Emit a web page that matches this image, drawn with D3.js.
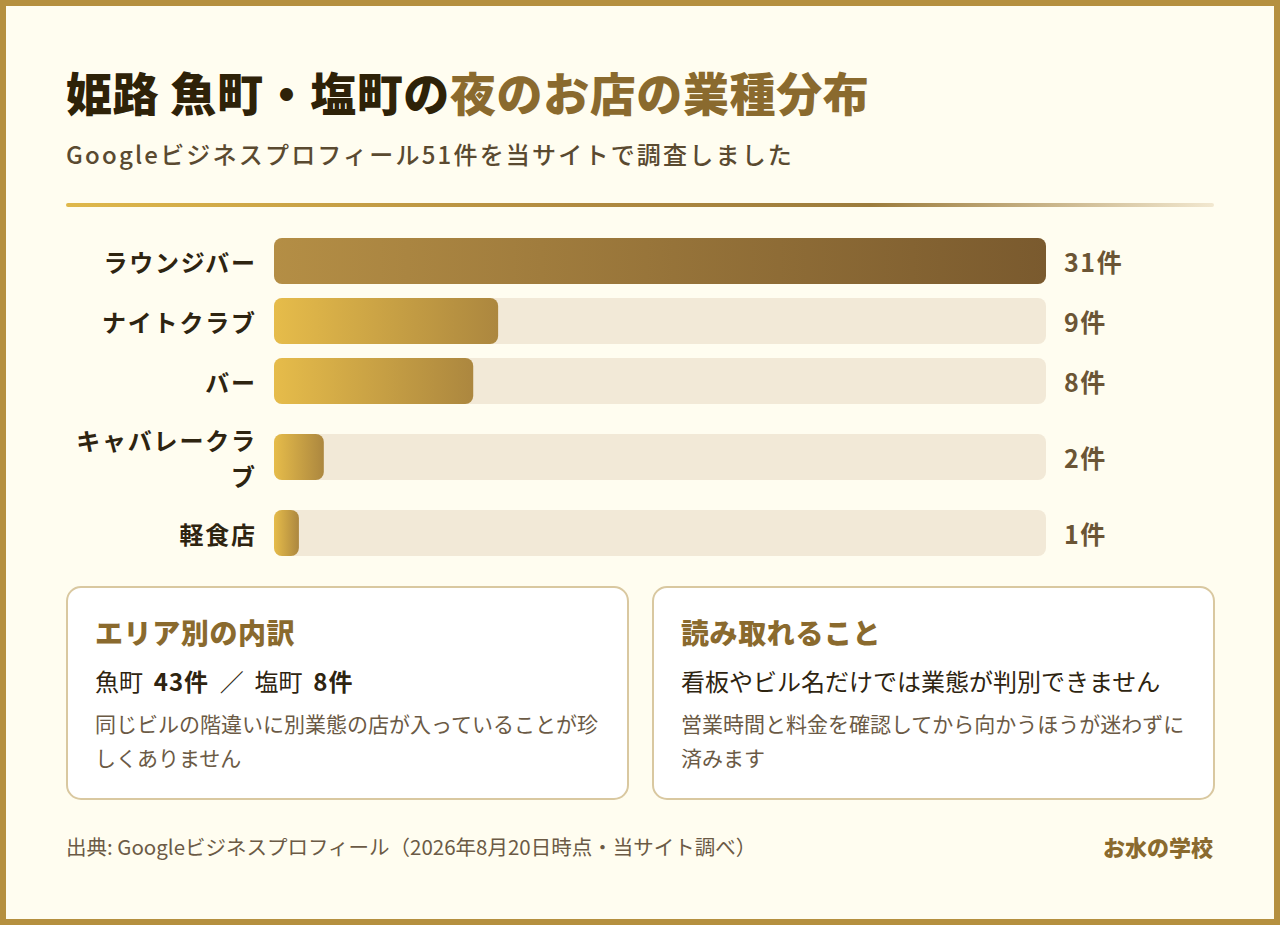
<!DOCTYPE html>
<html lang="ja">
<head>
<meta charset="utf-8">
<script src="https://cdn.jsdelivr.net/npm/d3@7"></script>
<style>
  html, body { margin: 0; padding: 0; background: #fffdf0; }
  svg { display: block; }
  text { font-family: "Noto Sans CJK JP", "Noto Sans", sans-serif; }
</style>
</head>
<body>
<svg id="chart" width="1280" height="925"></svg>
<script>
// ---- data ----
const categories = ["ラウンジバー", "ナイトクラブ", "バー", "キャバレークラブ", "軽食店"];
const counts = [31, 9, 8, 2, 1];
const unit = "件";
const titleDark = "姫路 魚町・塩町の";
const titleAccent = "夜のお店の業種分布";
const subtitle = "Googleビジネスプロフィール51件を当サイトで調査しました";
const cardTitles = ["エリア別の内訳", "読み取れること"];
const areaNames = ["魚町", "塩町"];
const areaCounts = [43, 8];
const cardLead2 = "看板やビル名だけでは業態が判別できません";
const cardNotes = [
  ["同じビルの階違いに別業態の店が入っていることが珍", "しくありません"],
  ["営業時間と料金を確認してから向かうほうが迷わずに", "済みます"]
];
const sourceText = "出典: Googleビジネスプロフィール（2026年8月20日時点・当サイト調べ）";
const brand = "お水の学校";

// ---- drawing ----
const W = 1280, H = 925;
const svg = d3.select("#chart");
const defs = svg.append("defs");

// background + frame
svg.append("rect").attr("x", 0).attr("y", 0).attr("width", W).attr("height", H).attr("fill", "#b5903f");
svg.append("rect").attr("x", 6).attr("y", 6).attr("width", W - 12).attr("height", H - 12).attr("fill", "#fffdf0");

// gradients
const gTop = defs.append("linearGradient").attr("id", "gTop");
gTop.append("stop").attr("offset", "0%").attr("stop-color", "#b48e45");
gTop.append("stop").attr("offset", "100%").attr("stop-color", "#7a5a2e");
const gBar = defs.append("linearGradient").attr("id", "gBar");
gBar.append("stop").attr("offset", "0%").attr("stop-color", "#e6bc4a");
gBar.append("stop").attr("offset", "100%").attr("stop-color", "#ac873f");
const gLine = defs.append("linearGradient").attr("id", "gLine");
[["0%", "#dfb84b"], ["45%", "#b08a40"], ["70%", "#9c7c3c"], ["100%", "#f2e8d0"]].forEach(s =>
  gLine.append("stop").attr("offset", s[0]).attr("stop-color", s[1]));

// title
const title = svg.append("text").attr("x", 66).attr("y", 91).attr("dominant-baseline", "central")
  .attr("font-size", 46).attr("font-weight", 900).attr("letter-spacing", 0.6);
title.append("tspan").attr("fill", "#2e2208").text(titleDark);
title.append("tspan").attr("fill", "#8a6a2e").text(titleAccent);

svg.append("text").attr("x", 66).attr("y", 153).attr("dominant-baseline", "central")
  .attr("font-size", 24).attr("font-weight", 500).attr("letter-spacing", 2.2).attr("fill", "#5a4a30").text(subtitle);

svg.append("rect").attr("x", 66).attr("y", 203).attr("width", 1148).attr("height", 4)
  .attr("rx", 2).attr("fill", "url(#gLine)");

// bars
const x0 = 274, x1 = 1046;
const x = d3.scaleLinear().domain([0, d3.max(counts)]).range([0, x1 - x0]);
const barH = 46, gap = 14, lineH = 36, labelMax = 186, labelX = 255;
const labelFont = 24, labelLS = 1.8;

// label wrapping
const measure = svg.append("text").attr("font-size", labelFont).attr("font-weight", 700)
  .attr("letter-spacing", labelLS).attr("visibility", "hidden");
function wrapLabel(s) {
  const lines = [];
  let cur = "";
  for (const ch of s) {
    measure.text(cur + ch);
    if (cur && measure.node().getComputedTextLength() > labelMax) { lines.push(cur); cur = ch; }
    else cur += ch;
  }
  if (cur) lines.push(cur);
  return lines;
}
const rows = [];
let yCur = 238;
categories.forEach((c, i) => {
  const lines = wrapLabel(c);
  const rowH = Math.max(barH, lines.length * lineH + 6);
  const cy = yCur + rowH / 2;
  rows.push({ c, v: counts[i], lines, cy, i });
  yCur += rowH + gap;
});
measure.remove();

const g = svg.append("g");
const row = g.selectAll("g.row").data(rows).join("g").attr("class", "row");
row.append("rect").attr("x", x0).attr("y", d => d.cy - barH / 2).attr("width", x1 - x0).attr("height", barH)
  .attr("rx", 8).attr("fill", "#f2e9d7");
row.append("rect").attr("x", x0).attr("y", d => d.cy - barH / 2).attr("width", d => x(d.v)).attr("height", barH)
  .attr("rx", 8).attr("fill", d => d.i === 0 ? "url(#gTop)" : "url(#gBar)");
row.append("text").attr("text-anchor", "end").attr("font-size", labelFont).attr("font-weight", 700)
  .attr("letter-spacing", labelLS).attr("fill", "#2e2410")
  .each(function (d) {
    const t = d3.select(this);
    const n = d.lines.length;
    d.lines.forEach((l, k) => {
      t.append("tspan").attr("x", labelX + labelLS).attr("y", d.cy + (k - (n - 1) / 2) * lineH)
        .attr("dominant-baseline", "central").text(l);
    });
  });
row.append("text").attr("x", 1064).attr("y", d => d.cy).attr("dominant-baseline", "central")
  .attr("font-size", 25).attr("font-weight", 700).attr("letter-spacing", 1.6).attr("fill", "#6b5535").text(d => d.v + unit);

// cards
const cards = [{ x: 66 }, { x: 652 }];
cards.forEach((cd, i) => {
  const cg = svg.append("g");
  cg.append("rect").attr("x", cd.x + 1).attr("y", 587).attr("width", 561).attr("height", 212).attr("rx", 14)
    .attr("fill", "#ffffff").attr("stroke", "#d9c8a0").attr("stroke-width", 2);
  const tx = cd.x + 29;
  cg.append("text").attr("x", tx).attr("y", 632).attr("dominant-baseline", "central")
    .attr("font-size", 28).attr("font-weight", 900).attr("letter-spacing", 0.6).attr("fill", "#8a6a2e").text(cardTitles[i]);
  const lead = cg.append("text").attr("x", tx).attr("y", 680).attr("dominant-baseline", "central")
    .attr("font-size", 24).attr("font-weight", 400).attr("fill", "#2e2410").attr("xml:space", "preserve");
  if (i === 0) {
    lead.append("tspan").text(areaNames[0] + "  ");
    lead.append("tspan").attr("font-weight", 700).attr("letter-spacing", 1).text(areaCounts[0] + unit);
    lead.append("tspan").text("  ／  " + areaNames[1] + "  ");
    lead.append("tspan").attr("font-weight", 700).attr("letter-spacing", 1).text(areaCounts[1] + unit);
  } else {
    lead.text(cardLead2);
  }
  cardNotes[i].forEach((l, k) => {
    cg.append("text").attr("x", tx).attr("y", 723 + k * 34).attr("dominant-baseline", "central")
      .attr("font-size", 21).attr("fill", "#6b5a45").text(l);
  });
});

// footer
svg.append("text").attr("x", 66).attr("y", 846).attr("dominant-baseline", "central")
  .attr("font-size", 20.5).attr("fill", "#6b5a45").text(sourceText);
svg.append("text").attr("x", 1213).attr("y", 846).attr("dominant-baseline", "central").attr("text-anchor", "end")
  .attr("font-size", 22).attr("font-weight", 900).attr("fill", "#8a6a2e").text(brand);
</script>
</body>
</html>
